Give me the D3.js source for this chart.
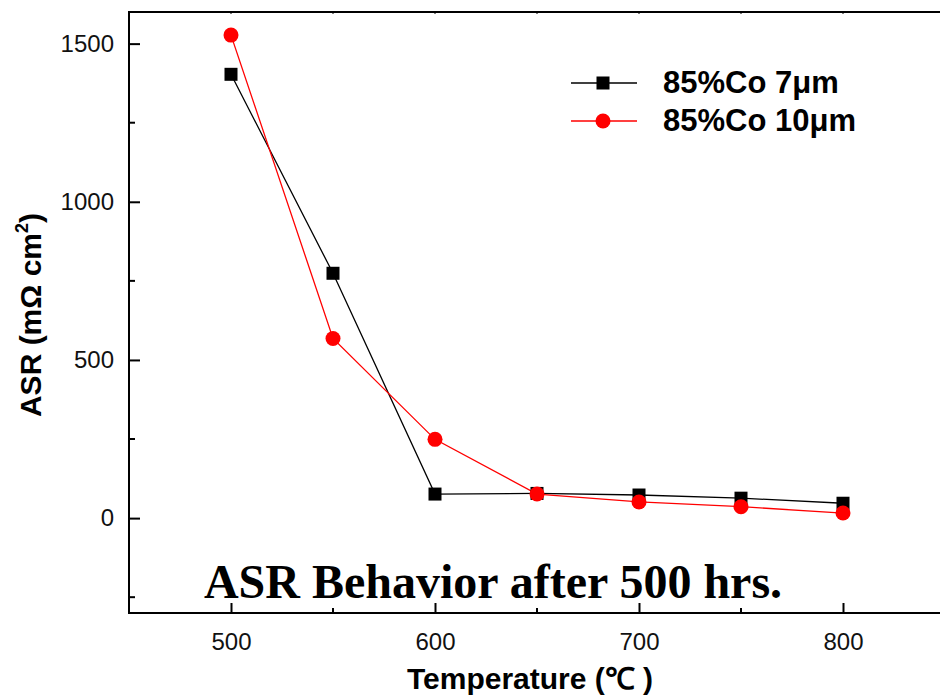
<!DOCTYPE html>
<html>
<head>
	<meta charset="utf-8">
	<title>ASR behavior after 500 hrs</title>
	<style>
		body { margin: 0; background: #fff; }
		svg { display: block; }
		.tick text { font-family: "Liberation Sans", Arial, sans-serif; font-size: 24px; fill: #111; }
		.axis path, .axis line { stroke: #000; stroke-width: 2; }
		.lbl { font-family: "Liberation Sans", Arial, sans-serif; font-weight: bold; font-size: 30px; fill: #000; }
		.leg { font-family: "Liberation Sans", Arial, sans-serif; font-weight: bold; font-size: 31px; fill: #000; }
		.note { font-family: "Liberation Serif", "Times New Roman", serif; font-weight: bold; font-size: 48px; fill: #000; }
	</style>
</head>
<body>
	<div id="drawing"></div>
	<script src="https://cdnjs.cloudflare.com/ajax/libs/d3/7.8.5/d3.min.js"></script>
	<script>
	// Data
	var temps = [500, 550, 600, 650, 700, 750, 800]
	var asr7um = [1403, 774, 76, 78, 73, 63, 47]
	var asr10um = [1527, 568, 249, 76, 51, 36, 16]
	var seriesNames = ["85%Co 7μm", "85%Co 10μm"]
	var xTicks = [500, 600, 700, 800]
	var xMinor = [550, 650, 750]
	var yTicks = [0, 500, 1000, 1500]
	var yMinor = [-250, 250, 750, 1250]

	// Canvas
	var width = 940, height = 695
	var plotLeft = 129, plotTop = 12, plotRight = 945, plotBottom = 613

	var svg = d3.select("#drawing").append("svg")
		.attr("width", width)
		.attr("height", height)

	var x = d3.scaleLinear().domain([450, 850]).range([plotLeft, plotRight])
	var y = d3.scaleLinear().domain([-300, 1600]).range([plotBottom, plotTop])

	// Frame (top line, the right side falls outside the window)
	svg.append("line")
		.attr("x1", plotLeft - 1).attr("x2", plotRight)
		.attr("y1", plotTop).attr("y2", plotTop)
		.attr("stroke", "#000").attr("stroke-width", 2)

	// Tiny ticks on the top edge
	svg.selectAll(".toptick").data(xTicks.concat(xMinor)).enter().append("line")
		.attr("x1", function(d){ return x(d) }).attr("x2", function(d){ return x(d) })
		.attr("y1", plotTop).attr("y2", plotTop + 2)
		.attr("stroke", "#000").attr("stroke-width", 1)

	// Bottom axis
	var xAxis = svg.append("g").attr("class", "axis")
		.attr("transform", "translate(0," + plotBottom + ")")
		.call(d3.axisBottom(x).tickValues(xTicks).tickFormat(d3.format("d"))
			.tickSizeInner(-10).tickSizeOuter(0).tickPadding(20))
	xAxis.selectAll(".minor").data(xMinor).enter().append("line")
		.attr("class", "minor")
		.attr("x1", function(d){ return x(d) }).attr("x2", function(d){ return x(d) })
		.attr("y1", 0).attr("y2", -5)
	xAxis.select(".domain").attr("d", "M" + (plotLeft - 1) + ",0H" + plotRight)

	// Left axis
	var yAxis = svg.append("g").attr("class", "axis")
		.attr("transform", "translate(" + plotLeft + ",0)")
		.call(d3.axisLeft(y).tickValues(yTicks).tickFormat(d3.format("d"))
			.tickSizeInner(-11).tickSizeOuter(0).tickPadding(15))
	yAxis.selectAll(".minor").data(yMinor).enter().append("line")
		.attr("class", "minor")
		.attr("x1", 0).attr("x2", 6)
		.attr("y1", function(d){ return y(d) }).attr("y2", function(d){ return y(d) })
	yAxis.select(".domain").attr("d", "M0," + (plotBottom + 1) + "V" + (plotTop - 1))

	// Lines and markers
	var line = d3.line()
		.x(function(d){ return x(d[0]) })
		.y(function(d){ return y(d[1]) })

	var data7 = d3.zip(temps, asr7um)
	var data10 = d3.zip(temps, asr10um)

	svg.append("path").datum(data7)
		.attr("d", line).attr("fill", "none")
		.attr("stroke", "#000").attr("stroke-width", 1.3)
	svg.append("path").datum(data10)
		.attr("d", line).attr("fill", "none")
		.attr("stroke", "#ff0000").attr("stroke-width", 1.3)

	var sq = 13
	svg.selectAll(".sq").data(data7).enter().append("rect")
		.attr("class", "sq")
		.attr("x", function(d){ return x(d[0]) - sq/2 })
		.attr("y", function(d){ return y(d[1]) - sq/2 })
		.attr("width", sq).attr("height", sq)
		.attr("fill", "#000")
	svg.selectAll(".dot").data(data10).enter().append("circle")
		.attr("class", "dot")
		.attr("cx", function(d){ return x(d[0]) })
		.attr("cy", function(d){ return y(d[1]) })
		.attr("r", 7.5)
		.attr("fill", "#ff0000")

	// Legend
	var legend = svg.append("g").attr("transform", "translate(571,83)")
	legend.append("line").attr("x1", 0).attr("x2", 66).attr("y1", 0).attr("y2", 0)
		.attr("stroke", "#000").attr("stroke-width", 1.3)
	legend.append("rect").attr("x", 32 - sq/2).attr("y", -sq/2).attr("width", sq).attr("height", sq).attr("fill", "#000")
	legend.append("text").attr("class", "leg").attr("x", 92).attr("y", 10).text(seriesNames[0])
	legend.append("line").attr("x1", 0).attr("x2", 66).attr("y1", 38).attr("y2", 38)
		.attr("stroke", "#ff0000").attr("stroke-width", 1.3)
	legend.append("circle").attr("cx", 32).attr("cy", 38).attr("r", 7.5).attr("fill", "#ff0000")
	legend.append("text").attr("class", "leg").attr("x", 92).attr("y", 48).text(seriesNames[1])

	// Axis titles
	svg.append("text").attr("class", "lbl")
		.attr("x", 530).attr("y", 689)
		.attr("text-anchor", "middle")
		.text("Temperature (℃ )")

	var yl = svg.append("text").attr("class", "lbl")
		.attr("transform", "translate(41,315) rotate(-90)")
		.attr("text-anchor", "middle")
	yl.append("tspan").text("ASR (mΩ cm")
	yl.append("tspan").attr("dy", -13).attr("font-size", 18).text("2")
	yl.append("tspan").attr("dy", 13).text(")")

	// Note inside plot
	svg.append("text").attr("class", "note")
		.attr("x", 493).attr("y", 598)
		.attr("text-anchor", "middle")
		.text("ASR Behavior after 500 hrs.")
	</script>
</body>
</html>
